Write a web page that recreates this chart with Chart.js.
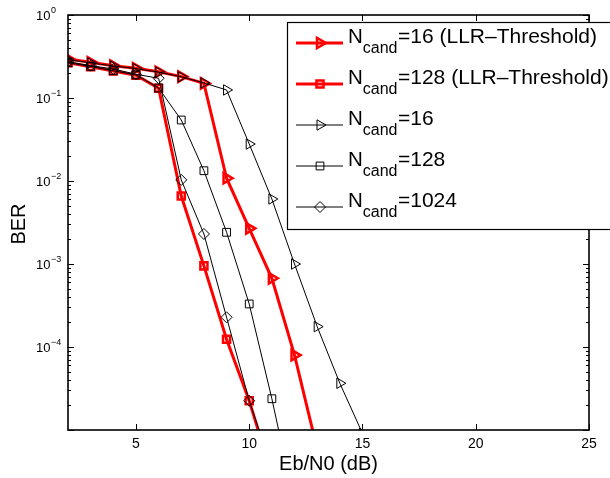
<!DOCTYPE html>
<html><head><meta charset="utf-8">
<script src="https://cdn.jsdelivr.net/npm/chart.js@4.4.0/dist/chart.umd.min.js"></script>
<style>html,body{margin:0;padding:0;background:#fff;}canvas{display:block;}</style>
</head><body>
<canvas id="c" width="610" height="478"></canvas>
<script>
// Eb/N0 values (dB)
const ebn0 = [2, 3, 4, 5, 6, 7, 8, 9, 10, 11, 12, 13, 14, 15];
// BER series
const berN16LLR  = [0.295, 0.269, 0.245, 0.228, 0.207, 0.181, 0.150, 0.0108, 0.00269, 6.73e-4, 8.0e-5, 5.9e-6];
const berN128LLR = [0.266, 0.238, 0.211, 0.188, 0.131, 0.00659, 9.5e-4, 1.24e-4, 2.25e-5, 2.9e-6];
const berN16     = [0.290, 0.265, 0.243, 0.226, 0.205, 0.180, 0.152, 0.125, 0.0279, 0.00607, 1.0e-3, 1.76e-4, 3.66e-5, 9.1e-6];
const berN128    = [0.266, 0.240, 0.213, 0.190, 0.132, 0.0543, 0.0133, 0.00241, 3.3e-4, 2.38e-5, 1.3e-6];
const berN1024   = [0.274, 0.245, 0.224, 0.193, 0.173, 0.0103, 0.0023, 2.28e-4, 2.25e-5, 3.5e-6];
// Axis ticks
const xTickValues = [5, 10, 15, 20, 25];
const yTickExponents = [0, -1, -2, -3, -4];
// Legend text
const legendMain = 'N';
const legendSub = 'cand';
const legendRest = ['=16 (LLR\u2013Threshold)', '=128 (LLR\u2013Threshold)', '=16', '=128', '=1024'];
const xAxisTitle = 'Eb/N0 (dB)';
const yAxisTitle = 'BER';

const FONT = '"Liberation Sans", Arial, Helvetica, sans-serif';
const toPoints = vals => vals.map((v, i) => ({ x: ebn0[i], y: v }));

const seriesStyles = [
  { color: '#ff0000', width: 3, style: 'triangle', rot: 90, r: 6,   bw: 2.5, order: 2 },
  { color: '#ff0000', width: 3, style: 'rect',     rot: 0,  r: 5,   bw: 2.5, order: 2 },
  { color: '#000000', width: 1, style: 'triangle', rot: 90, r: 6,   bw: 1,   order: 1 },
  { color: '#000000', width: 1, style: 'rect',     rot: 0,  r: 5.5, bw: 1,   order: 1 },
  { color: '#000000', width: 1, style: 'rectRot',  rot: 0,  r: 5.5, bw: 1,   order: 1 }
];
const seriesData = [berN16LLR, berN128LLR, berN16, berN128, berN1024];

const datasets = seriesData.map((vals, i) => {
  const s = seriesStyles[i];
  return {
    label: legendMain + legendSub + legendRest[i],
    data: toPoints(vals),
    borderColor: s.color,
    borderWidth: s.width,
    backgroundColor: 'rgba(0,0,0,0)',
    pointStyle: s.style,
    pointRotation: s.rot,
    pointRadius: s.r,
    pointBorderWidth: s.bw,
    pointBorderColor: s.color,
    pointBackgroundColor: 'rgba(0,0,0,0)',
    tension: 0,
    fill: false,
    order: s.order
  };
});

function drawMarker(ctx, style, x, y, r, rotDeg) {
  ctx.beginPath();
  if (style === 'triangle') {
    const rad = rotDeg * Math.PI / 180;
    for (let k = 0; k < 3; k++) {
      const a = rad + k * 2 * Math.PI / 3;
      const px = x + Math.sin(a) * r, py = y - Math.cos(a) * r;
      if (k === 0) ctx.moveTo(px, py); else ctx.lineTo(px, py);
    }
    ctx.closePath();
  } else if (style === 'rect') {
    const s = Math.SQRT1_2 * r;
    ctx.rect(x - s, y - s, 2 * s, 2 * s);
  } else {
    ctx.moveTo(x, y - r); ctx.lineTo(x + r, y); ctx.lineTo(x, y + r); ctx.lineTo(x - r, y); ctx.closePath();
  }
  ctx.stroke();
}

const matlabPlugin = {
  id: 'matlab',
  beforeDraw(chart) {
    const ctx = chart.ctx;
    ctx.save(); ctx.fillStyle = '#fff'; ctx.fillRect(0, 0, chart.width, chart.height); ctx.restore();
  },
  afterDraw(chart) {
    const { ctx, chartArea: a, scales: { x, y } } = chart;
    ctx.save();
    // ticks
    ctx.strokeStyle = '#000'; ctx.lineWidth = 1;
    ctx.beginPath();
    xTickValues.forEach(v => {
      const px = Math.round(x.getPixelForValue(v)) + 0.5;
      ctx.moveTo(px, a.bottom); ctx.lineTo(px, a.bottom - 6);
      ctx.moveTo(px, a.top); ctx.lineTo(px, a.top + 6);
    });
    for (let e = -5; e <= 0; e++) {
      for (let k = 1; k <= 9; k++) {
        if (e === 0 && k > 1) break;
        const v = k * Math.pow(10, e);
        const py = Math.round(y.getPixelForValue(v)) + 0.5;
        const len = k === 1 ? 6 : 3;
        ctx.moveTo(a.left, py); ctx.lineTo(a.left + len, py);
        ctx.moveTo(a.right, py); ctx.lineTo(a.right - len, py);
      }
    }
    ctx.stroke();
    // axes box
    ctx.lineWidth = 1.6;
    ctx.strokeRect(a.left, a.top, a.right - a.left, a.bottom - a.top);

    // x tick labels
    ctx.fillStyle = '#000';
    ctx.font = '14px ' + FONT;
    ctx.textAlign = 'center'; ctx.textBaseline = 'alphabetic';
    xTickValues.forEach(v => ctx.fillText(String(v), x.getPixelForValue(v), 448));
    // y tick labels 10^e
    ctx.textAlign = 'left';
    yTickExponents.forEach(e => {
      const py = y.getPixelForValue(Math.pow(10, e));
      ctx.font = '13px ' + FONT;
      ctx.fillText('10', 36, py + 4.5);
      const w = ctx.measureText('10').width;
      ctx.font = '9px ' + FONT;
      ctx.fillText(e === 0 ? '0' : '\u2212' + (-e), 36 + w + 0.5, py - 2);
    });
    // axis titles
    ctx.font = '20px ' + FONT;
    ctx.textAlign = 'center';
    ctx.fillText(xAxisTitle, (a.left + a.right) / 2, 470);
    ctx.save();
    ctx.translate(25, 224);
    ctx.rotate(-Math.PI / 2);
    ctx.fillText(yAxisTitle, 0, 0);
    ctx.restore();

    // legend
    ctx.fillStyle = '#fff';
    ctx.fillRect(287.5, 22.5, 340, 207);
    ctx.strokeStyle = '#000'; ctx.lineWidth = 1.2;
    ctx.strokeRect(287.5, 22.5, 340, 207);
    const rowsY = [43, 84, 125, 166, 207];
    seriesStyles.forEach((s, i) => {
      const by = rowsY[i];
      ctx.strokeStyle = s.color;
      ctx.lineWidth = s.width;
      ctx.beginPath(); ctx.moveTo(296, by); ctx.lineTo(343, by); ctx.stroke();
      ctx.lineWidth = s.bw;
      drawMarker(ctx, s.style, 320, by, s.r, s.rot);
      ctx.fillStyle = '#000';
      ctx.textAlign = 'left';
      ctx.font = '20.5px ' + FONT;
      ctx.fillText(legendMain, 348, by);
      let xx = 348 + ctx.measureText(legendMain).width;
      ctx.font = '16px ' + FONT;
      ctx.fillText(legendSub, xx, by + 10);
      xx += ctx.measureText(legendSub).width + 0.5;
      ctx.font = '21px ' + FONT;
      ctx.fillText(legendRest[i], xx, by);
    });
    ctx.restore();
  }
};

new Chart(document.getElementById('c'), {
  type: 'line',
  data: { datasets },
  options: {
    responsive: false,
    animation: false,
    devicePixelRatio: 1,
    layout: { padding: { left: 68, right: 21, top: 15, bottom: 48 } },
    plugins: { legend: { display: false }, tooltip: { enabled: false } },
    scales: {
      x: { type: 'linear', min: 2, max: 25, display: false,
           afterBuildTicks: sc => { sc.ticks = xTickValues.map(v => ({ value: v })); } },
      y: { type: 'logarithmic', min: 1e-5, max: 1, display: false,
           afterBuildTicks: sc => { sc.ticks = yTickExponents.map(e => ({ value: Math.pow(10, e) })); } }
    }
  },
  plugins: [matlabPlugin]
});
</script>
</body></html>
